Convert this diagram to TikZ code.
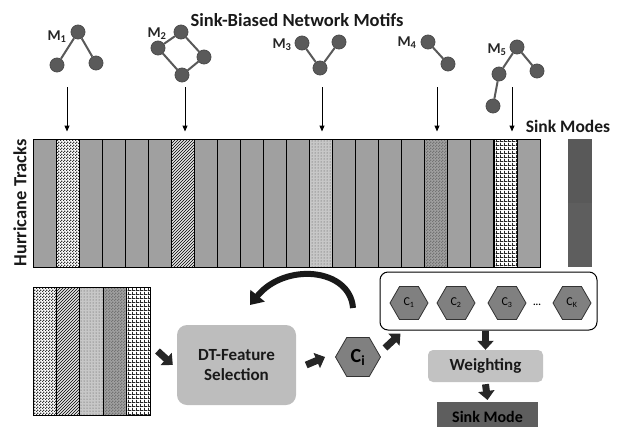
\documentclass[tikz,border=0pt]{standalone}
\usepackage{fontspec}
\setmainfont{Carlito}
\usetikzlibrary{calc,patterns,shapes.geometric,arrows.meta}
\definecolor{stripgray}{HTML}{A0A0A0}
\definecolor{nodegray}{HTML}{5A5A5A}
\definecolor{hexgray}{HTML}{808080}
\definecolor{boxgray}{HTML}{BDBDBD}
\definecolor{wgray}{HTML}{C2C2C2}
\definecolor{smgray}{HTML}{5E5E5E}
\pgfdeclarepatternformonly{finechecker}{\pgfpointorigin}{\pgfpoint{3pt}{3pt}}{\pgfpoint{3pt}{3pt}}{%
	\pgfpathrectangle{\pgfpointorigin}{\pgfpoint{1.5pt}{1.5pt}}%
	\pgfpathrectangle{\pgfpoint{1.5pt}{1.5pt}}{\pgfpoint{1.5pt}{1.5pt}}%
	\pgfusepath{fill}}
\pgfdeclarepatternformonly{finegrid}{\pgfpointorigin}{\pgfpoint{4pt}{4pt}}{\pgfpoint{4pt}{4pt}}{%
	\pgfpathrectangle{\pgfpointorigin}{\pgfpoint{4pt}{1.2pt}}%
	\pgfpathrectangle{\pgfpointorigin}{\pgfpoint{1.2pt}{4pt}}%
	\pgfusepath{fill}}
\tikzset{
	strip/.style={draw=black, line width=1pt, minimum width=23pt, minimum height=128pt, inner sep=0pt},
	motif/.style={circle, draw=black!70, line width=0.8pt, fill=nodegray, minimum size=14pt, inner sep=0pt},
	motifedge/.style={line width=2pt, color=black!65},
	thinarrow/.style={line width=1pt, -{Triangle[length=6pt,width=5pt]}, shorten >=7pt},
	fatarrow/.style={line width=7pt, color=black!85, -{Triangle[length=9pt,width=16pt]}},
	hexa/.style={regular polygon, regular polygon sides=6, draw=black!80, line width=0.8pt, fill=hexgray, minimum size=38pt, inner sep=0pt, font=\fontsize{12}{12}\selectfont},
	lbl/.style={font=\bfseries\fontsize{15}{15}\selectfont, text=black!85},
	bigtxt/.style={font=\bfseries\fontsize{17.5}{17.5}\selectfont, text=black!90},
	boxtxt/.style={font=\bfseries\fontsize{17}{20}\selectfont, text=black!90},
}
\begin{document}
\begin{tikzpicture}[x=1pt, y=-1pt]
			%%%%% START %%%%%
			\useasboundingbox (0,0) rectangle (621,426);
			
			\node[bigtxt, font=\bfseries\fontsize{18.5}{18.5}\selectfont] (title) at (297,20) {Sink-Biased Network Motifs};
			
			% motifs
			\node[motif] (m1a) at (78,32) {};
			\node[motif] (m1b) at (57,65) {};
			\node[motif] (m1c) at (96,63) {};
			\draw[motifedge] (m1a) -- (m1b) (m1a) -- (m1c);
			\node[lbl] (l1) at (57,37) {M\textsubscript{1}};
			
			\node[motif] (m2a) at (181,32) {};
			\node[motif] (m2b) at (158,48) {};
			\node[motif] (m2c) at (204,57) {};
			\node[motif] (m2d) at (182,75) {};
			\draw[motifedge] (m2a) -- (m2b) (m2a) -- (m2c) (m2b) -- (m2d) (m2c) -- (m2d);
			\node[lbl] (l2) at (157,34) {M\textsubscript{2}};
			
			\node[motif] (m3a) at (302,43) {};
			\node[motif] (m3b) at (320,68) {};
			\node[motif] (m3c) at (339,42) {};
			\draw[motifedge] (m3a) -- (m3b) -- (m3c);
			\node[lbl] (l3) at (282,45) {M\textsubscript{3}};
			
			\node[motif] (m4a) at (428,42) {};
			\node[motif] (m4b) at (448,64) {};
			\draw[motifedge] (m4a) -- (m4b);
			\node[lbl] (l4) at (407,43) {M\textsubscript{4}};
			
			\node[motif] (m5a) at (517,47) {};
			\node[motif] (m5b) at (537,71) {};
			\node[motif] (m5c) at (499,74) {};
			\node[motif] (m5d) at (493,106) {};
			\draw[motifedge] (m5a) -- (m5b) (m5a) -- (m5c) -- (m5d);
			\node[lbl] (l5) at (497,50) {M\textsubscript{5}};
			
			% hurricane tracks
			\foreach \i in {0,2,3,4,5,7,8,9,10,11,13,14,15,16,18,19,21}
				\node[strip, fill=stripgray] (s\i) at ({44.5+23.05*\i},203) {};
			\node[strip, pattern=finechecker, pattern color=black!80] (s1) at ({44.5+23.05*1},203) {};
			\node[strip, preaction={fill=black!10}, pattern=north east lines] (s6) at ({44.5+23.05*6},203) {};
			\node[strip, preaction={fill=black!22}, pattern=dots, pattern color=black!70] (s12) at ({44.5+23.05*12},203) {};
			\node[strip, preaction={fill=stripgray}, pattern=finechecker, pattern color=black!55] (s17) at ({44.5+23.05*17},203) {};
			\node[strip, pattern=finegrid, pattern color=black!85] (s20) at ({44.5+23.05*20},203) {};
			
			\node[bigtxt, font=\bfseries\fontsize{18.5}{18.5}\selectfont, rotate=90] (ht) at (20,203) {Hurricane Tracks};
			
			\coordinate (a1) at (67,87);
			\coordinate (a2) at (185,87);
			\coordinate (a3) at (322,87);
			\coordinate (a4) at (437,87);
			\coordinate (a5) at (512,87);
			\draw[thinarrow] (a1) -- (a1 |- s1.north);
			\draw[thinarrow] (a2) -- (a2 |- s6.north);
			\draw[thinarrow] (a3) -- (a3 |- s12.north);
			\draw[thinarrow] (a4) -- (a4 |- s17.north);
			\draw[thinarrow] (a5) -- (a5 |- s20.north);
			
			% sink modes
			\node[bigtxt] (smlbl) at (568,126) {Sink Modes};
			\node[fill=smgray, minimum width=24pt, minimum height=128pt, inner sep=0pt] (sinkbar) at (580,203) {};
			\fill[black!70, opacity=0.25] (sinkbar.north west) rectangle ($(sinkbar.east)+(0,-0.5)$);
			
			% selected strips
			\node[strip, minimum width=23.4pt, pattern=finechecker, pattern color=black!80] (b1) at (44.7,351) {};
			\node[strip, minimum width=23.4pt, preaction={fill=black!10}, pattern=north east lines] (b2) at (68.1,351) {};
			\node[strip, minimum width=23.4pt, preaction={fill=black!22}, pattern=dots, pattern color=black!70] (b3) at (91.5,351) {};
			\node[strip, minimum width=23.4pt, preaction={fill=stripgray}, pattern=finechecker, pattern color=black!55] (b4) at (114.9,351) {};
			\node[strip, minimum width=23.4pt, pattern=finegrid, pattern color=black!85] (b5) at (138.3,351) {};
			
			\node[fill=boxgray, rounded corners=10pt, minimum width=119pt, minimum height=80pt, align=center, boxtxt] (dt) at (236.5,365) {DT-Feature\\Selection};
			\draw[fatarrow] ($(b5.east)+(7,0)$) -- ($(dt.west)+(-4,0)$);
			
			\node[hexa, minimum size=45pt, font=\bfseries\fontsize{20}{20}\selectfont] (ci) at (358,357) {C\textsubscript{i}};
			\draw[fatarrow] ($(dt.east)+(10,0)$) -- ($(ci.west)+(-10,0)$);
			
			% clusters
			\node[draw, line width=1pt, rounded corners=8pt, minimum width=217pt, minimum height=58pt] (cl) at (488.5,301) {};
			\node[hexa] (c1) at (409,303) {C\textsubscript{1}};
			\node[hexa] (c2) at (456,303) {C\textsubscript{2}};
			\node[hexa] (c3) at (507,303) {C\textsubscript{3}};
			\node (dots) at (537,305) {\textbf{...}};
			\node[hexa] (ck) at (572,303) {C\textsubscript{K}};
			\draw[fatarrow] ($(ci.east)+(4,-9)$) -- ($(cl.south west)+(21,3)$);
			
			\coordinate (cs) at (353,308);
			\coordinate (ce) at (250,305);
			\draw[line width=6pt, color=black!90, -{Triangle[length=12pt,width=18pt]}] (cs) .. controls (350,268) and (285,262) .. (ce);
			
			\node[fill=wgray, rounded corners=5pt, minimum width=115pt, minimum height=32pt, boxtxt] (wt) at (485.5,366) {Weighting};
			\draw[fatarrow] (wt.north |- cl.south) -- (wt.north);
			
			\node[fill=smgray, minimum width=101pt, minimum height=30pt, anchor=north, font=\bfseries\fontsize{16}{16}\selectfont, text=black] (sm) at (487.5,402) {Sink Mode};
			\draw[fatarrow] ($(wt.south)+(0,2)$) -- ($(sm.north)+(0,-2)$);
			
			%%%%% END %%%%%
\end{tikzpicture}
\end{document}
